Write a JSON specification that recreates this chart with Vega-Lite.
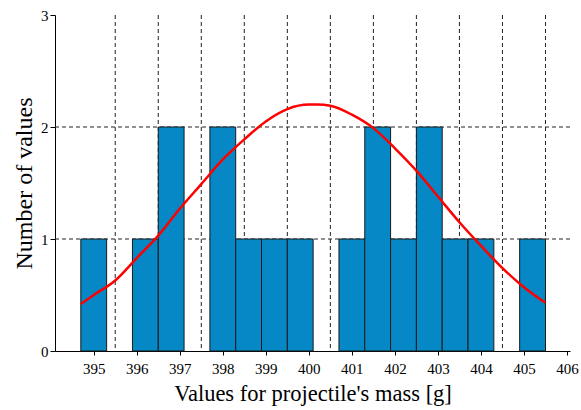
{
  "$schema": "https://vega.github.io/schema/vega-lite/v6.json",
  "width": 515,
  "height": 336,
  "autosize": {"type": "none"},
  "padding": {"left": 55, "top": 15, "right": 11, "bottom": 59},
  "background": "white",
  "config": {
    "view": {"stroke": null},
    "font": "Liberation Serif",
    "axis": {"labelFont": "Liberation Serif", "titleFont": "Liberation Serif", "titleFontWeight": "normal", "labelColor": "#000", "titleColor": "#000", "domainColor": "#000", "tickColor": "#000", "grid": false, "tickSize": 5}
  },
  "datasets": {
    "bins": [
      {"start": 394.7, "end": 395.3, "count": 1},
      {"start": 395.9, "end": 396.5, "count": 1},
      {"start": 396.5, "end": 397.1, "count": 2},
      {"start": 397.7, "end": 398.3, "count": 2},
      {"start": 398.3, "end": 398.9, "count": 1},
      {"start": 398.9, "end": 399.5, "count": 1},
      {"start": 399.5, "end": 400.1, "count": 1},
      {"start": 400.7, "end": 401.3, "count": 1},
      {"start": 401.3, "end": 401.9, "count": 2},
      {"start": 401.9, "end": 402.5, "count": 1},
      {"start": 402.5, "end": 403.1, "count": 2},
      {"start": 403.1, "end": 403.7, "count": 1},
      {"start": 403.7, "end": 404.3, "count": 1},
      {"start": 404.9, "end": 405.5, "count": 1}
    ],
    "curve": [
      {"mass": 394.7, "value": 0.42},
      {"mass": 395.0, "value": 0.50},
      {"mass": 395.5, "value": 0.63},
      {"mass": 396.0, "value": 0.83},
      {"mass": 396.5, "value": 1.03},
      {"mass": 397.0, "value": 1.27},
      {"mass": 397.5, "value": 1.49},
      {"mass": 398.0, "value": 1.71},
      {"mass": 398.5, "value": 1.89},
      {"mass": 399.0, "value": 2.05},
      {"mass": 399.5, "value": 2.16},
      {"mass": 400.0, "value": 2.20},
      {"mass": 400.2, "value": 2.20},
      {"mass": 400.5, "value": 2.19},
      {"mass": 401.0, "value": 2.11},
      {"mass": 401.5, "value": 1.99},
      {"mass": 402.0, "value": 1.81},
      {"mass": 402.5, "value": 1.61},
      {"mass": 403.0, "value": 1.38},
      {"mass": 403.5, "value": 1.15},
      {"mass": 404.0, "value": 0.94},
      {"mass": 404.5, "value": 0.74},
      {"mass": 405.0, "value": 0.57},
      {"mass": 405.5, "value": 0.43}
    ],
    "vgrid": [
      {"g": 395.5}, {"g": 396.5}, {"g": 397.5}, {"g": 398.5}, {"g": 399.5}, {"g": 400.5},
      {"g": 401.5}, {"g": 402.5}, {"g": 403.5}, {"g": 404.5}, {"g": 405.5}
    ],
    "hgrid": [{"h": 1}, {"h": 2}]
  },
  "layer": [
    {
      "data": {"name": "vgrid"},
      "mark": {"type": "rule", "color": "#222", "strokeDash": [4, 3], "strokeWidth": 1},
      "encoding": {
        "x": {"field": "g", "type": "quantitative", "title": "Values for projectile's mass [g]", "scale": {"domain": [394.1, 406.07], "nice": false, "zero": false},
          "axis": {"values": [395, 396, 397, 398, 399, 400, 401, 402, 403, 404, 405, 406], "format": "d", "tickSize": 4, "labelFontSize": 15, "labelPadding": 6, "titleFontSize": 22.5, "titleBaseline": "alphabetic", "titleY": 49}}
      }
    },
    {
      "data": {"name": "hgrid"},
      "mark": {"type": "rule", "color": "#222", "strokeDash": [4, 3], "strokeWidth": 1},
      "encoding": {
        "y": {"field": "h", "type": "quantitative", "title": "Number of values", "scale": {"domain": [0, 3], "nice": false},
          "axis": {"values": [0, 1, 2, 3], "format": "d", "labelFontSize": 15, "labelPadding": 2, "titleFontSize": 24, "titleX": -19}}
      }
    },
    {
      "data": {"name": "bins"},
      "mark": {"type": "rect", "fill": "#0688c6", "stroke": "#1a1a1a", "strokeWidth": 1},
      "encoding": {
        "x": {"field": "start", "type": "quantitative", "title": "Values for projectile's mass [g]"},
        "x2": {"field": "end"},
        "y": {"field": "count", "type": "quantitative", "title": "Number of values"},
        "y2": {"datum": 0}
      }
    },
    {
      "data": {"name": "curve"},
      "mark": {"type": "line", "color": "#ff0000", "strokeWidth": 2.5, "interpolate": "monotone"},
      "encoding": {
        "x": {"field": "mass", "type": "quantitative", "title": "Values for projectile's mass [g]"},
        "y": {"field": "value", "type": "quantitative", "title": "Number of values"}
      }
    }
  ]
}
